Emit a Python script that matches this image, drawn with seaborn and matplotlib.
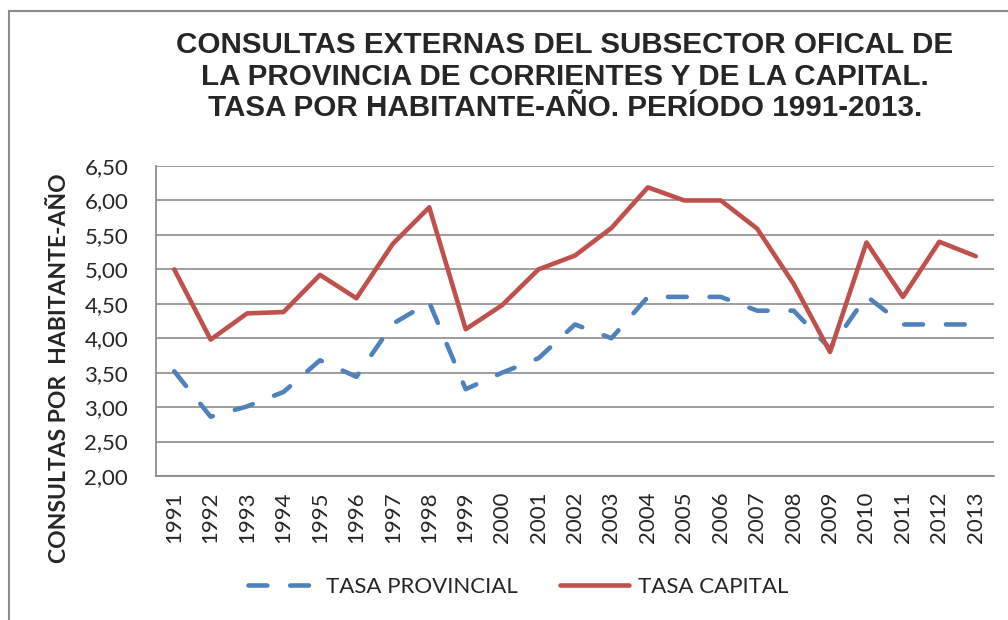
import pandas as pd
import numpy as np
import seaborn as sns
import matplotlib.pyplot as plt
from matplotlib.lines import Line2D
from matplotlib.patches import Rectangle
from matplotlib.ticker import MultipleLocator, FixedLocator

years = list(range(1991, 2014))
tasa_provincial = [3.52, 2.86, 3.01, 3.22, 3.68, 3.44, 4.21, 4.52, 3.26, 3.50, 3.71,
                   4.20, 4.00, 4.60, 4.60, 4.60, 4.40, 4.40, 3.85, 4.61, 4.20, 4.20, 4.20]
tasa_capital = [5.00, 3.98, 4.36, 4.38, 4.92, 4.58, 5.37, 5.90, 4.13, 4.48, 5.00,
                5.20, 5.60, 6.19, 6.00, 6.00, 5.59, 4.79, 3.80, 5.39, 4.60, 5.40, 5.19]
series_names = ["TASA PROVINCIAL", "TASA CAPITAL"]
colores = {"TASA PROVINCIAL": "#4F81BD", "TASA CAPITAL": "#C0504D"}
guion = (4.1, 5.0)

df = pd.DataFrame({"anio": years * 2,
                   "tasa": tasa_provincial + tasa_capital,
                   "serie": [series_names[0]] * len(years) + [series_names[1]] * len(years)})

sns.set_style("white")
plt.rcParams['font.family'] = ['Lato', 'DejaVu Sans']

fig = plt.figure(figsize=(10.08, 6.2), dpi=100)
ax = fig.add_axes([156 / 1008, 1 - 476 / 620, (994 - 156) / 1008, (476 - 166) / 620])

sns.lineplot(data=df, x="anio", y="tasa", hue="serie", style="serie",
             palette=colores, dashes={"TASA PROVINCIAL": guion, "TASA CAPITAL": ""},
             linewidth=3.3, dash_capstyle="round", solid_capstyle="round",
             solid_joinstyle="round", legend=False, ax=ax)

ax.set_xlim(1990.5, 2013.5)
ax.set_ylim(2.0, 6.5)
ax.yaxis.set_major_locator(MultipleLocator(0.5))
ax.set_yticklabels([f"{v:.2f}".replace(".", ",") for v in ax.get_yticks()])
ax.set_xticks(years)
ax.set_xticklabels([str(y) for y in years], rotation=90)
ax.xaxis.set_minor_locator(FixedLocator(np.arange(1990.5, 2014, 1)))
ax.tick_params(axis="x", which="major", length=0, pad=11, labelsize=16)
ax.tick_params(axis="x", which="minor", length=7, width=1.2, color="#868686", direction="out")
ax.tick_params(axis="y", length=7, width=1.2, color="#868686", direction="out", labelsize=16, pad=13)
ax.grid(axis="y", color="#8c8c8c", linewidth=1.2)
for s in ["top", "right"]:
    ax.spines[s].set_visible(False)
for s in ["left", "bottom"]:
    ax.spines[s].set_color("#868686")
    ax.spines[s].set_linewidth(1.2)
ax.set_xlabel("")
ax.set_ylabel("CONSULTAS POR  HABITANTE-AÑO", fontsize=16.5, fontweight="bold")
ax.yaxis.set_label_coords((70 - 156) / 838, (476 - 368) / 310)

fig.text(565 / 1008, 1 - 31 / 620,
         "CONSULTAS EXTERNAS DEL SUBSECTOR OFICAL DE\nLA PROVINCIA DE CORRIENTES Y DE LA CAPITAL.\nTASA POR HABITANTE-AÑO. PERÍODO 1991-2013.",
         ha="center", va="top", fontsize=21.3, fontweight="bold",
         family=["Liberation Sans", "DejaVu Sans"], linespacing=1.17)

handles = [Line2D([], [], color=colores[n], linewidth=3.3,
                  linestyle=(0, guion) if i == 0 else "-",
                  dash_capstyle="round", solid_capstyle="round")
           for i, n in enumerate(series_names)]
fig.legend(handles, series_names, loc="center", bbox_to_anchor=(518 / 1008, 1 - 587 / 620),
           ncol=2, frameon=False, fontsize=16, handlelength=3.1, columnspacing=1.9,
           handletextpad=0.4)

fig.patches.append(Rectangle((9 / 1008, -0.1), 1.2, 1 - 11 / 620 + 0.1, transform=fig.transFigure,
                             fill=False, edgecolor="#8c8c8c", linewidth=1.5))

fig.savefig("out.png", dpi=100)
